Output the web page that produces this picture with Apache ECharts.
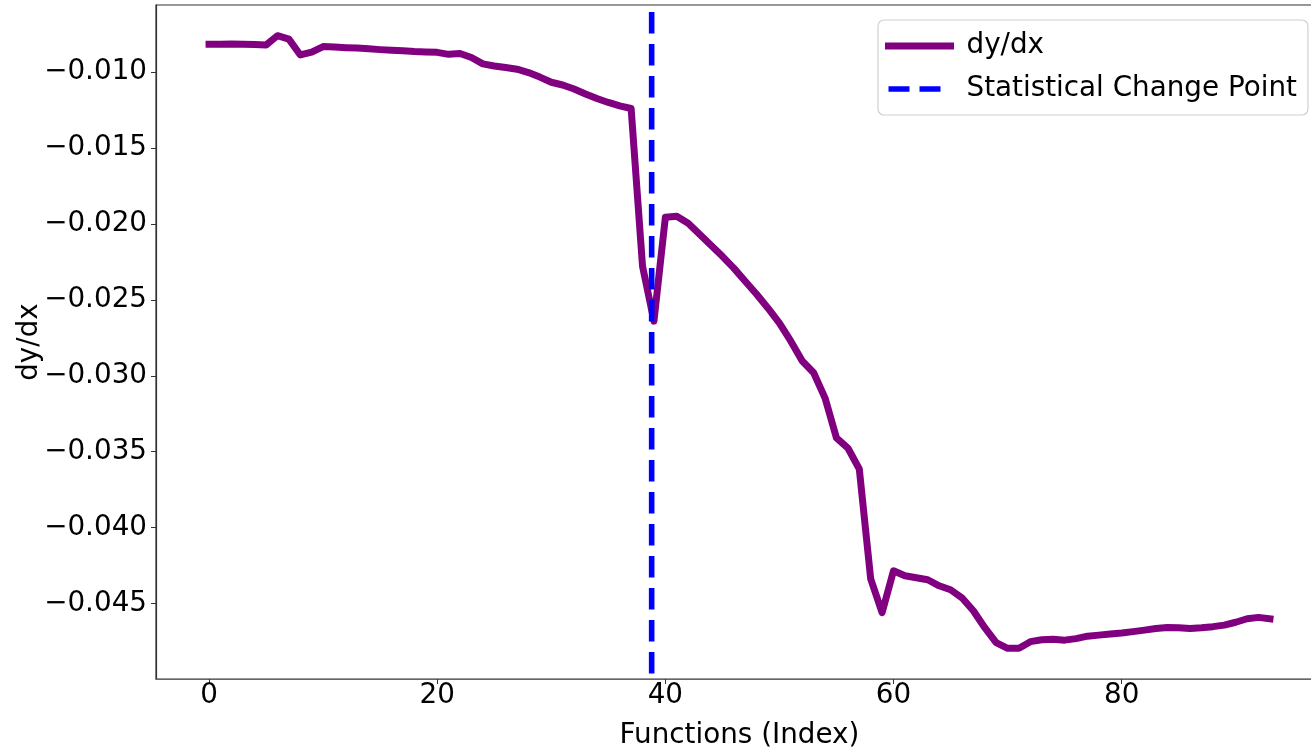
<!DOCTYPE html>
<html>
<head>
<meta charset="utf-8">
<script src="https://cdn.jsdelivr.net/npm/echarts@6/dist/echarts.min.js"></script>
<style>
html,body{margin:0;padding:0;background:#fff;}
#chart{width:1311px;height:748px;}
</style>
</head>
<body>
<div id="chart"></div>
<script>
// ---- data ----
const indices = Array.from({length: 94}, (_, i) => i);
const dydx = [
  -0.00816, -0.00815, -0.00814, -0.00815, -0.00818, -0.00820, -0.00759, -0.00782, -0.00886, -0.00868,
  -0.00831, -0.00834, -0.00838, -0.00841, -0.00846, -0.00851, -0.00855, -0.00859, -0.00864, -0.00866,
  -0.00869, -0.00882, -0.00877, -0.00903, -0.00945, -0.00959, -0.00969, -0.00980, -0.01002, -0.01032,
  -0.01066, -0.01084, -0.01111, -0.01143, -0.01173, -0.01199, -0.01222, -0.01239, -0.02278, -0.02640,
  -0.01956, -0.01949, -0.01995, -0.02068, -0.02140, -0.02213, -0.02291, -0.02377, -0.02463, -0.02555,
  -0.02653, -0.02772, -0.02903, -0.02980, -0.03147, -0.03410, -0.03476, -0.03614, -0.04338, -0.04561,
  -0.04285, -0.04318, -0.04331, -0.04344, -0.04384, -0.04410, -0.04463, -0.04548, -0.04660, -0.04759,
  -0.04796, -0.04795, -0.04752, -0.04739, -0.04736, -0.04742, -0.04732, -0.04716, -0.04709, -0.04701,
  -0.04695, -0.04686, -0.04676, -0.04665, -0.04658, -0.04660, -0.04665, -0.04660, -0.04653, -0.04643,
  -0.04624, -0.04601, -0.04592, -0.04601
];
const changePoint = 38.8;
const xTicks = [0, 20, 40, 60, 80];
const yTicks = [-0.045, -0.040, -0.035, -0.030, -0.025, -0.020, -0.015, -0.010];
const xRange = [-4.65, 97.65];
const yRange = [-0.04998, -0.00557];
const seriesNames = ['dy/dx', 'Statistical Change Point'];
const axisNames = ['Functions (Index)', 'dy/dx'];

// ---- chart ----
const FONT = 'DejaVu Sans';
const FS = 27.8;
const PURPLE = '#800080', BLUE = '#0000ff';
const DASH = [21.5, 10.5];
const chart = echarts.init(document.getElementById('chart'), null, {renderer: 'canvas'});
const fmtY = v => (v < 0 ? '\u2212' : '') + Math.abs(v).toFixed(3);

chart.setOption({
  animation: false,
  backgroundColor: '#ffffff',
  grid: {
    left: 156, right: -12, top: 5, bottom: 69,
    outerBoundsMode: 'none', containLabel: false,
    show: true, borderColor: '#333', borderWidth: 1.2, backgroundColor: 'transparent'
  },
  legend: {
    orient: 'vertical',
    left: 878, top: 20,
    padding: [12, 11, 12, 7],
    itemWidth: 62, itemHeight: 14, itemGap: 15,
    backgroundColor: 'rgba(255,255,255,0.8)',
    borderColor: '#d0d0d0', borderWidth: 1.2, borderRadius: 6,
    itemStyle: {opacity: 0},
    textStyle: {fontFamily: FONT, fontSize: FS, color: '#000', padding: [0, 0, 0, 11]},
    data: [
      {name: seriesNames[0], lineStyle: {width: 7, color: PURPLE, type: 'solid', cap: 'square'}},
      {name: seriesNames[1], lineStyle: {width: 5.6, color: BLUE, type: [21, 10], cap: 'butt', dashOffset: 0}}
    ]
  },
  xAxis: {
    type: 'value', min: xRange[0], max: xRange[1],
    name: axisNames[0], nameLocation: 'middle', nameGap: 43, nameMoveOverlap: false,
    nameTextStyle: {fontFamily: FONT, fontSize: FS, color: '#000'},
    splitLine: {show: false},
    axisLine: {show: true, onZero: false, lineStyle: {color: '#666', width: 1.2}},
    axisTick: {show: true, length: 5, customValues: xTicks, lineStyle: {color: '#333', width: 1}},
    axisLabel: {customValues: xTicks, margin: 3, fontFamily: FONT, fontSize: FS, color: '#000',
      formatter: v => String(v)}
  },
  yAxis: {
    type: 'value', min: yRange[0], max: yRange[1],
    name: axisNames[1], nameLocation: 'middle', nameGap: 112, nameRotate: 90, nameMoveOverlap: false,
    nameTextStyle: {fontFamily: FONT, fontSize: FS, color: '#000'},
    splitLine: {show: false},
    axisLine: {show: true, onZero: false, lineStyle: {color: '#333', width: 1.2}},
    axisTick: {show: true, length: 5, customValues: yTicks, lineStyle: {color: '#333', width: 1}},
    axisLabel: {customValues: yTicks, margin: 9, fontFamily: FONT, fontSize: FS, color: '#000',
      formatter: fmtY}
  },
  series: [
    {
      name: seriesNames[0], type: 'line',
      data: indices.map((x, i) => [x, dydx[i]]),
      showSymbol: false, symbol: 'none', smooth: false,
      lineStyle: {color: PURPLE, width: 7, cap: 'square', join: 'round'},
      itemStyle: {color: PURPLE},
      z: 2
    },
    {
      name: seriesNames[1], type: 'line',
      data: [[changePoint, yRange[0]], [changePoint, yRange[1]]],
      showSymbol: false, symbol: 'none',
      lineStyle: {color: BLUE, width: 5.6, type: DASH, dashOffset: 26.4, cap: 'butt'},
      itemStyle: {color: BLUE},
      z: 3
    }
  ]
});
</script>
</body>
</html>
